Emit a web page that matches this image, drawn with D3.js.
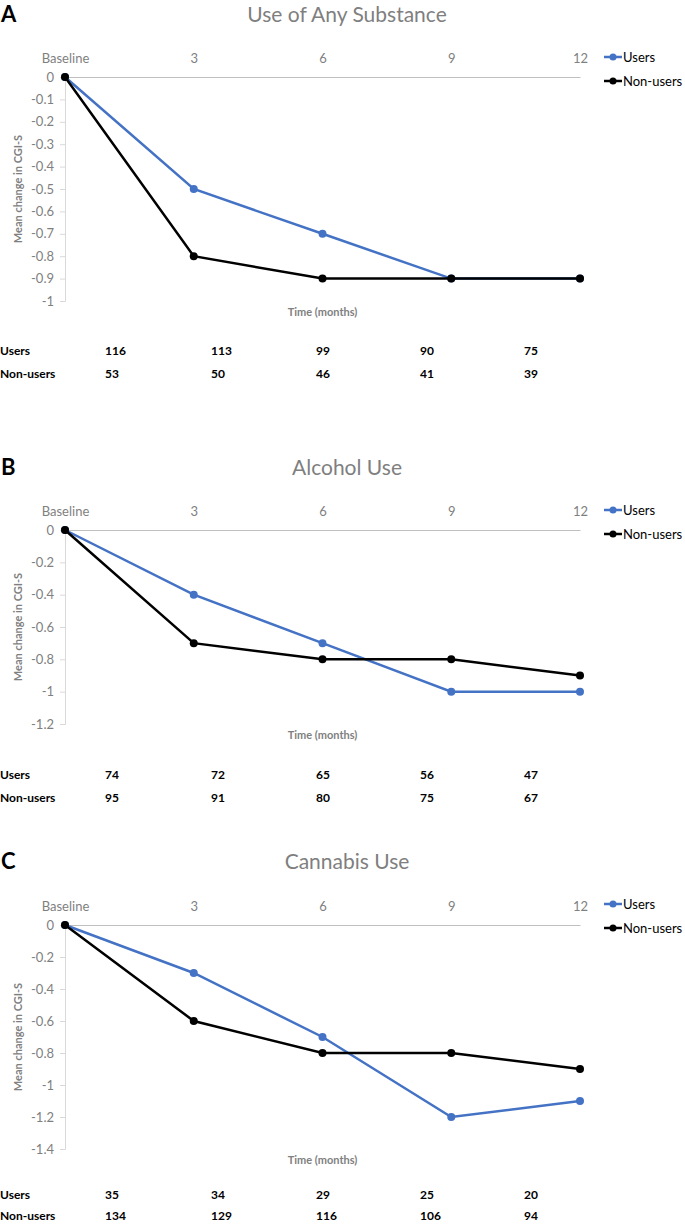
<!DOCTYPE html>
<html><head><meta charset="utf-8">
<script src="https://cdn.jsdelivr.net/npm/d3@7"></script>
<style>body{margin:0;background:#fff;} svg{display:block;font-family:Lato,"Open Sans",sans-serif;}</style>
</head><body>
<script>
const timeLabels = ["Baseline", "3", "6", "9", "12"];
const seriesNames = ["Users", "Non-users"];
const seriesColors = ["#4472c4", "#000000"];

const titleA = "Use of Any Substance";
const usersA = [0, -0.5, -0.7, -0.9, -0.9];
const nonUsersA = [0, -0.8, -0.9, -0.9, -0.9];
const yTicksA = [0, -0.1, -0.2, -0.3, -0.4, -0.5, -0.6, -0.7, -0.8, -0.9, -1];
const nUsersA = [116, 113, 99, 90, 75];
const nNonUsersA = [53, 50, 46, 41, 39];

const titleB = "Alcohol Use";
const usersB = [0, -0.4, -0.7, -1, -1];
const nonUsersB = [0, -0.7, -0.8, -0.8, -0.9];
const yTicksB = [0, -0.2, -0.4, -0.6, -0.8, -1, -1.2];
const nUsersB = [74, 72, 65, 56, 47];
const nNonUsersB = [95, 91, 80, 75, 67];

const titleC = "Cannabis Use";
const usersC = [0, -0.3, -0.7, -1.2, -1.1];
const nonUsersC = [0, -0.6, -0.8, -0.8, -0.9];
const yTicksC = [0, -0.2, -0.4, -0.6, -0.8, -1, -1.2, -1.4];
const nUsersC = [35, 34, 29, 25, 20];
const nNonUsersC = [134, 129, 116, 106, 94];

const svg = d3.select("body").append("svg").attr("width", 685).attr("height", 1226);

function panel(letter, title, users, nonUsers, yTicks, nUsers, nNon, top, zeroY, bottomY, tableY, rowGap) {
  const g = svg.append("g");
  const x = d3.scalePoint().domain(timeLabels).range([65, 580]);
  const y = d3.scaleLinear().domain([0, d3.min(yTicks)]).range([zeroY, bottomY]);

  g.append("text").attr("x", 1).attr("y", top + 22).text(letter)
    .attr("font-size", 22).attr("font-weight", "bold").attr("fill", "#000");
  g.append("text").attr("x", 347).attr("y", top + 22).attr("text-anchor", "middle").text(title)
    .attr("font-size", 21).attr("fill", "#7f7f7f");

  const ya = g.append("g").attr("transform", `translate(65,0)`)
    .call(d3.axisLeft(y).tickValues(yTicks).tickSize(5).tickPadding(6).tickFormat(d => String(d)));
  ya.select(".domain").attr("stroke", "#d9d9d9");
  ya.selectAll(".tick line").attr("stroke", "#d9d9d9");
  ya.selectAll("text").attr("fill", "#7f7f7f").attr("font-size", 13).attr("font-family", "Lato, sans-serif");

  const xa = g.append("g").attr("transform", `translate(0,${zeroY})`)
    .call(d3.axisTop(x).tickSize(0).tickPadding(14));
  xa.select(".domain").attr("stroke", "#bfbfbf");
  xa.selectAll("text").attr("fill", "#7f7f7f").attr("font-size", 13).attr("font-family", "Lato, sans-serif");

  g.append("text").attr("transform", `translate(22,${(zeroY + bottomY) / 2}) rotate(-90)`)
    .attr("text-anchor", "middle").text("Mean change in CGI-S")
    .attr("font-size", 11).attr("font-weight", "bold").attr("fill", "#7f7f7f");
  g.append("text").attr("x", x("6")).attr("y", bottomY + 15).attr("text-anchor", "middle")
    .text("Time (months)").attr("font-size", 11).attr("font-weight", "bold").attr("fill", "#7f7f7f");

  const line = d3.line().x((d, i) => x(timeLabels[i])).y(d => y(d));
  [users, nonUsers].forEach((vals, si) => {
    g.append("path").datum(vals).attr("d", line).attr("fill", "none")
      .attr("stroke", seriesColors[si]).attr("stroke-width", 2.5);
    g.selectAll(null).data(vals).enter().append("circle")
      .attr("cx", (d, i) => x(timeLabels[i])).attr("cy", d => y(d)).attr("r", 4)
      .attr("fill", seriesColors[si]);
  });

  seriesNames.forEach((n, i) => {
    const ly = top + 57 + i * 24;
    g.append("line").attr("x1", 604).attr("x2", 622).attr("y1", ly).attr("y2", ly)
      .attr("stroke", seriesColors[i]).attr("stroke-width", 2.5);
    g.append("circle").attr("cx", 613).attr("cy", ly).attr("r", 3.5).attr("fill", seriesColors[i]);
    g.append("text").attr("x", 623).attr("y", ly + 5).text(n).attr("font-size", 13).attr("fill", "#000");
  });

  const colX = [105, 211, 316, 420, 524];
  [[seriesNames[0], nUsers], [seriesNames[1], nNon]].forEach(([lab, vals], r) => {
    const ty = tableY + r * rowGap;
    g.append("text").attr("x", 0).attr("y", ty).text(lab)
      .attr("font-size", 12).attr("font-weight", "bold").attr("fill", "#000");
    vals.forEach((v, i) => g.append("text").attr("x", colX[i]).attr("y", ty).text(v)
      .attr("font-size", 12).attr("font-weight", "bold").attr("fill", "#000"));
  });
}

panel("A", titleA, usersA, nonUsersA, yTicksA, nUsersA, nNonUsersA, 0, 77, 301, 355, 23);
panel("B", titleB, usersB, nonUsersB, yTicksB, nUsersB, nNonUsersB, 453, 530, 724, 779, 23);
panel("C", titleC, usersC, nonUsersC, yTicksC, nUsersC, nNonUsersC, 847, 925, 1149, 1199, 21);
</script>
</body></html>
